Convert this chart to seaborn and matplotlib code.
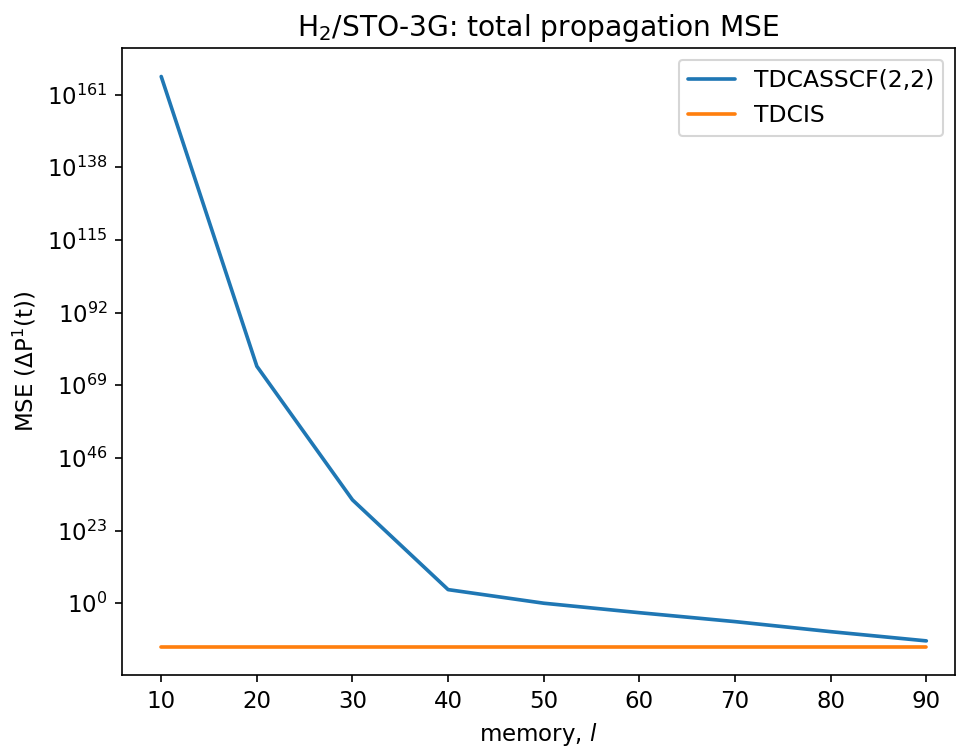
import numpy as np
import pandas as pd
import seaborn as sns
import matplotlib
matplotlib.use("Agg")
import matplotlib.pyplot as plt
from matplotlib.ticker import FixedLocator, LogFormatterSciNotation, NullLocator

memory = [10, 20, 30, 40, 50, 60, 70, 80, 90]
tdcasscf_mse = [5e166, 1e75, 5e32, 2e4, 1.0, 1e-3, 1.5e-6, 1e-9, 1.2e-12]
tdcis_mse = [2e-14] * 9
series_names = ["TDCASSCF(2,2)", "TDCIS"]
ytick_exponents = [0, 23, 46, 69, 92, 115, 138, 161]

df = pd.DataFrame({
    "memory": memory * 2,
    "mse": tdcasscf_mse + tdcis_mse,
    "method": [series_names[0]] * 9 + [series_names[1]] * 9,
})

sns.set_style("ticks")
plt.rcParams["font.family"] = ["DejaVu Sans"]
plt.rcParams["text.color"] = "black"
plt.rcParams["axes.labelcolor"] = "black"
plt.rcParams["xtick.color"] = "black"
plt.rcParams["ytick.color"] = "black"
fig = plt.figure(figsize=(956 / 150, 749 / 150), dpi=150)
ax = fig.add_axes([122 / 956, 1 - 675 / 749, (955 - 122) / 956, (675 - 48) / 749])
sns.lineplot(data=df, x="memory", y="mse", hue="method",
             palette=["#1f77b4", "#ff7f0e"], linewidth=1.75, ax=ax)
ax.set_yscale("log")
ax.yaxis.set_major_locator(FixedLocator([10.0 ** k for k in ytick_exponents]))
ax.yaxis.set_major_formatter(LogFormatterSciNotation())
ax.yaxis.set_minor_locator(NullLocator())
ax.set_xticks([10, 20, 30, 40, 50, 60, 70, 80, 90])
ax.set_xlim(5.9, 93.0)
ax.tick_params(labelsize=11, colors="black")
ax.set_xlabel("memory, $l$", fontsize=11)
ax.set_ylabel(r"MSE ($\Delta$P$^1$(t))", fontsize=11)
ax.set_title(r"H$_2$/STO-3G: total propagation MSE", fontsize=13.5)
leg = ax.legend(loc="upper right", fontsize=11.25, title=None)
for s in ax.spines.values():
    s.set_visible(True)
    s.set_color("black")
fig.savefig("out.png", dpi=150)
